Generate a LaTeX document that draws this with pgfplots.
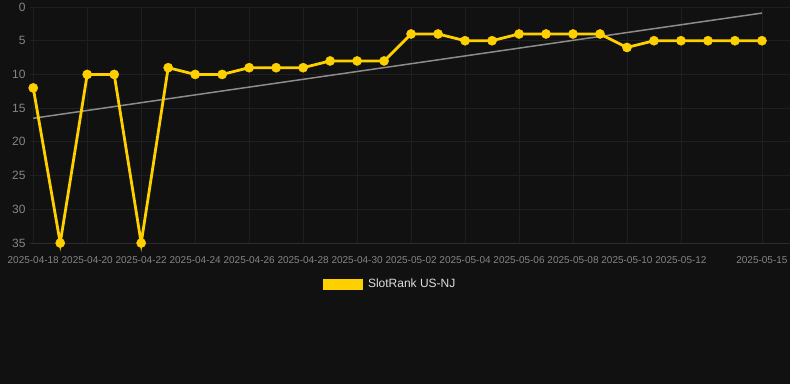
\documentclass[border=0pt]{standalone}
\usepackage{fontspec}
\setmainfont{Liberation Sans}
\usepackage{pgfplots}
\pgfplotsset{compat=1.18}
\definecolor{bg}{HTML}{111111}
\definecolor{gridc}{HTML}{1F1F1F}
\definecolor{basec}{HTML}{2C2C2C}
\definecolor{tickc}{HTML}{858585}
\definecolor{rankc}{HTML}{FFD000}
\definecolor{trendc}{HTML}{8C8C8C}
\definecolor{legc}{HTML}{DDDDDD}
\begin{document}
\begin{tikzpicture}[x=1pt,y=1pt]
\useasboundingbox (0,0) rectangle (790,384);
\fill[bg] (0,0) rectangle (790,384);
\begin{axis}[
  at={(30pt,141pt)}, anchor=south west,
  scale only axis, width=760pt, height=236pt,
  xmin=-0.12, xmax=28.04, ymin=0, ymax=35, y dir=reverse,
  axis line style={draw=none},
  tick style={draw=none},
  grid=major, grid style={gridc, line width=0.8pt},
  xtick={0,2,4,6,8,10,12,14,16,18,20,22,24,27},
  xticklabels={2025-04-18,2025-04-20,2025-04-22,2025-04-24,2025-04-26,2025-04-28,2025-04-30,2025-05-02,2025-05-04,2025-05-06,2025-05-08,2025-05-10,2025-05-12,2025-05-15},
  ytick={0,5,10,15,20,25,30,35},
  /pgf/number format/assume math mode=true,
  xticklabel style={font=\fontsize{10}{11}\selectfont, text=tickc, yshift=-9.5pt},
  yticklabel style={font=\fontsize{12}{13}\selectfont, text=tickc, xshift=-1pt},
  legend style={at={(0.474,-0.174)}, anchor=center, draw=none, fill=none,
    text=legc, font=\fontsize{12}{13}\selectfont, legend cell align=left},
  clip=false,
]
\addlegendimage{legend image code/.code={\fill[rankc, draw=none] (0pt,-5.5pt) rectangle (40pt,5.5pt); \path[draw=none, fill=none] (0pt,0pt) -- (43pt,0pt);}}
\addlegendentry{SlotRank US-NJ}
\draw[basec, line width=0.9pt] (axis cs:-0.12,35) -- (axis cs:28.04,35);
\addplot[trendc, line width=1.5pt, forget plot] coordinates {(0,16.5) (27,0.9)};
\addplot[rankc, line width=2.8pt, mark=*, mark size=4.6pt, mark options={solid, fill=rankc, draw=rankc, line width=0.4pt}, forget plot] coordinates {
(0,12) (1,35) (2,10) (3,10) (4,35) (5,9) (6,10) (7,10) (8,9) (9,9) (10,9) (11,8) (12,8) (13,8)
(14,4) (15,4) (16,5) (17,5) (18,4) (19,4) (20,4) (21,4) (22,6) (23,5) (24,5) (25,5) (26,5) (27,5)};
\end{axis}
\end{tikzpicture}
\end{document}
